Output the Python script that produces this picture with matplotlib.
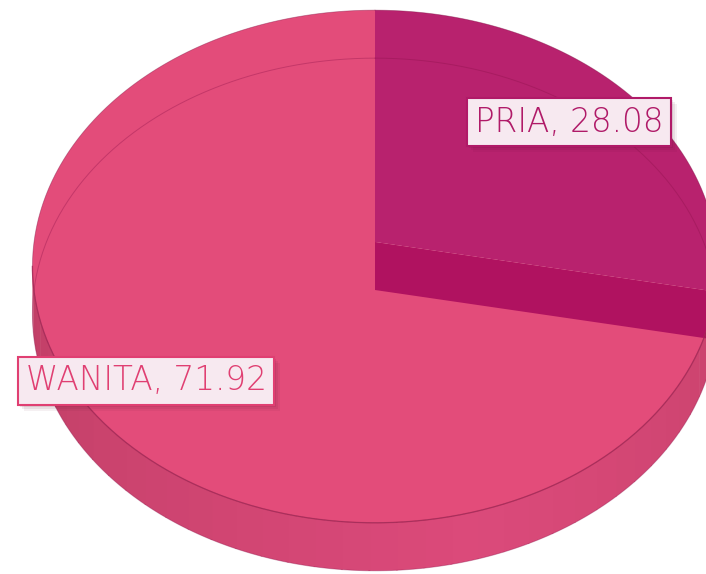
import numpy as np
import matplotlib.pyplot as plt
from matplotlib.patches import Polygon, Rectangle

# data
labels = ['PRIA', 'WANITA']
values = [28.08, 71.92]
top_colors = ['#B8226E', '#E34C7A']
text_colors = ['#B01A68', '#E03F72']
label_xy = [(569, 122), (146, 381)]

# look of the 3d pie (pixel space)
cx, cy = 375, 242
a, b, k = 341.0, 254.0, 0.0955
depth = 48


def proj(theta, bottom=False, r=1.0):
    th = np.radians(theta)
    u = r * np.sin(th)
    v = r * np.cos(th)
    d = 1 + k * v
    x = cx + a * u / d
    y = cy - b * v / d + (depth if bottom else 0)
    return x, y


def rim(t1, t2, bottom=False, n=200):
    ts = np.linspace(t1, t2, n)
    xs, ys = proj(ts, bottom)
    return np.column_stack([xs, ys])


fig = plt.figure(figsize=(7.06, 5.74), dpi=100)
ax = fig.add_axes([0, 0, 1, 1])
ax.set_xlim(0, 706)
ax.set_ylim(574, 0)
ax.axis('off')

angles = np.concatenate([[0], np.cumsum(values) / sum(values) * 360])
sil_r = np.degrees(np.arccos(-k))
sil_l = 360 - sil_r

# side walls, split in pieces so the shading can vary
side_dark = np.array([0.74, 0.24, 0.39])
side_light = np.array([0.86, 0.29, 0.48])
for i in range(len(values)):
    t1 = max(angles[i], sil_r)
    t2 = min(angles[i + 1], sil_l)
    if t2 <= t1:
        continue
    edges = np.linspace(t1, t2, 40)
    for j in range(len(edges) - 1):
        s, e = edges[j], edges[j + 1]
        mid = (s + e) / 2
        w = np.clip(1 - abs(mid - 165) / 110, 0, 1)
        if i == 0:
            col = np.array([0.65, 0.10, 0.38])
        else:
            col = side_dark + (side_light - side_dark) * w
        pts = np.vstack([rim(s, e + 0.3, n=6), rim(s, e + 0.3, True, n=6)[::-1]])
        ax.add_patch(Polygon(pts, closed=True, facecolor=col, edgecolor='none'))

# top faces
for i in range(len(values)):
    pts = np.vstack([[cx, cy], rim(angles[i], angles[i + 1])])
    ax.add_patch(Polygon(pts, closed=True, facecolor=top_colors[i],
                         edgecolor='none'))

# cut face of the small slice, drawn over the big one
cut = angles[1]
xt, yt = proj(cut)
xb, yb = proj(cut, True)
band = [[cx, cy], [xt, yt], [xb, yb], [cx, cy + depth]]
ax.add_patch(Polygon(band, closed=True, facecolor='#B01260', edgecolor='none'))

# faint inner rim and the top edge on the front
r_back = rim(0, 360, True, n=400)
ax.plot(r_back[:, 0], r_back[:, 1], color='#8A1048', lw=0.7, alpha=0.35)
r_front = rim(sil_r, sil_l)
ax.plot(r_front[:, 0], r_front[:, 1], color='#B8325F', lw=1.0, alpha=0.8)
r_out = rim(0, 360, n=400)
ax.plot(r_out[:, 0], r_out[:, 1], color='#7A1040', lw=0.6, alpha=0.4)

# data labels
texts = []
for i in range(len(values)):
    txt = '%s, %.2f' % (labels[i], values[i])
    x, y = label_xy[i]
    t = ax.text(x, y, txt, fontsize=23.5, family='DejaVu Sans', fontweight='light',
                color=text_colors[i], ha='center', va='center', zorder=5,
                bbox=dict(boxstyle='square,pad=0.24', facecolor='#F7E9F0',
                          edgecolor=text_colors[i], linewidth=1.5))
    texts.append(t)

# soft shadow under each label box
fig.canvas.draw()
renderer = fig.canvas.get_renderer()
inv = ax.transData.inverted()
for t in texts:
    ext = t.get_bbox_patch().get_window_extent(renderer)
    (x0, y0), (x1, y1) = inv.transform([[ext.x0, ext.y0], [ext.x1, ext.y1]])
    for off, al in [(6, 0.06), (4, 0.08), (2, 0.10)]:
        ax.add_patch(Rectangle((x0 + off, y1 + off), x1 - x0, y0 - y1,
                               facecolor='#5A1030', edgecolor='none',
                               alpha=al, zorder=4))

fig.savefig('out.png', dpi=100)
